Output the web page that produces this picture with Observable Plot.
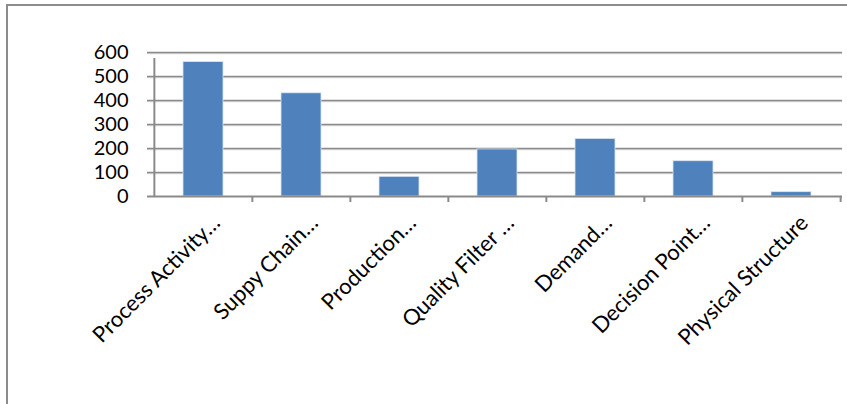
<!DOCTYPE html>
<html>
<head>
<meta charset="utf-8">
<script src="https://cdn.jsdelivr.net/npm/d3@7"></script>
<script src="https://cdn.jsdelivr.net/npm/@observablehq/plot@0.6"></script>
<style>
  html, body { margin: 0; padding: 0; background: #fff; overflow: hidden; }
  #wrap { position: relative; width: 847px; height: 404px; }
  #frame { position: absolute; left: 6px; top: 4px; width: 900px; height: 500px;
           border-left: 2px solid #8c8c8c; border-top: 2px solid #8c8c8c; pointer-events: none; }
</style>
</head>
<body>
<div id="wrap"><div id="frame"></div></div>
<script>
const categories = ["Process Activity…", "Suppy Chain…", "Production…", "Quality Filter …", "Demand…", "Decision Point…", "Physical Structure"];
const values = [560, 430, 82, 196, 240, 147, 18];
const yTicks = [0, 100, 200, 300, 400, 500, 600];

const data = categories.map((c, i) => ({category: c, value: values[i]}));

const W = 847, H = 404, mL = 153, mR = 6, mT = 52, mB = 208;
const step = (W - mL - mR) / categories.length;
const font = "Lato, 'Open Sans', sans-serif";

const chart = Plot.plot({
  width: W,
  height: H,
  marginLeft: mL,
  marginRight: mR,
  marginTop: mT,
  marginBottom: mB,
  style: {fontFamily: font, fontSize: "20px", color: "#000", background: "transparent"},
  x: {domain: categories, paddingInner: 0.59, paddingOuter: 0.295, label: null},
  y: {domain: [0, 600], label: null},
  marks: [
    // gridlines (with light shadow)
    Plot.ruleY(yTicks.slice(1), {stroke: "#d0d0d0", strokeWidth: 1, dy: 1.2, insetLeft: -6, insetRight: -1}),
    Plot.ruleY(yTicks.slice(1), {stroke: "#8a8a8a", strokeWidth: 1.3, insetLeft: -6, insetRight: -1}),
    Plot.barY(data, {x: "category", y: "value", fill: "#4F81BD", stroke: "#dbe5f1", strokeWidth: 0.8}),
    // baseline
    Plot.ruleY([0], {stroke: "#8a8a8a", strokeWidth: 2, insetLeft: -6, insetRight: -1}),
    // vertical axis line
    Plot.ruleX([categories[0]], {y1: 0, y2: 600, dx: -step / 2, stroke: "#8a8a8a", strokeWidth: 2, insetBottom: -6}),
    // category boundary ticks
    Plot.ruleX(categories.slice(1), {y1: 0, y2: 0, dx: -step / 2, stroke: "#8a8a8a", strokeWidth: 2, insetBottom: -6}),
    Plot.ruleX([categories[categories.length - 1]], {y1: 0, y2: 0, dx: step / 2, stroke: "#8a8a8a", strokeWidth: 2, insetBottom: -6}),
    Plot.axisY({ticks: yTicks, tickSize: 0, tickPadding: 25, fontSize: 20, label: null}),
    Plot.axisX({tickSize: 0, tickRotate: -45, textAnchor: "end", fontSize: 22, dx: 13, dy: 11, label: null})
  ]
});
document.getElementById("wrap").prepend(chart);
</script>
</body>
</html>
